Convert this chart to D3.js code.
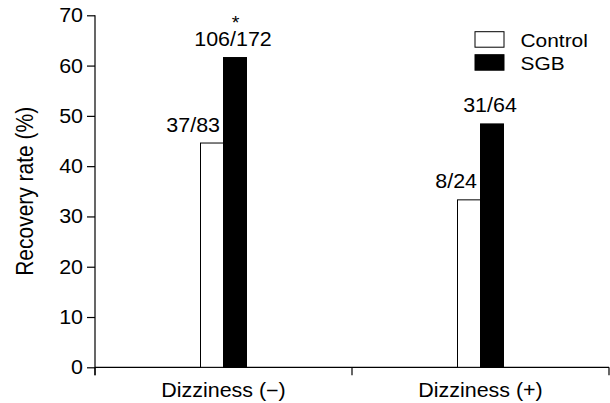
<!DOCTYPE html>
<html>
<head>
<meta charset="utf-8">
<script src="https://cdn.jsdelivr.net/npm/d3@7"></script>
<style>
  html, body { margin: 0; padding: 0; background: #fff; }
  svg { display: block; }
  text { font-family: "Liberation Sans", Arial, sans-serif; fill: #000; }
</style>
</head>
<body>
<svg id="chart" width="610" height="403"></svg>
<script>
// ---- data ----
const categories = ["Dizziness (\u2212)", "Dizziness (+)"];
const seriesNames = ["Control", "SGB"];
const controlValues = [44.6, 33.3];
const sgbValues = [61.6, 48.4];
const controlLabels = ["37/83", "8/24"];
const sgbLabels = ["106/172", "31/64"];
const sgbSignificance = ["*", ""];
const yTicks = [0, 10, 20, 30, 40, 50, 60, 70];
const yTitle = "Recovery rate (%)";

// ---- layout ----
const mLeft = 95, mRight = 609, mTop = 15.3, mBottom = 367.3;
const sx = 1.1;          // horizontal text stretch of the original
const fs = 19.5;         // main font size
const svg = d3.select("#chart");

const x = d3.scaleBand().domain(categories).range([mLeft, mRight]).padding(0);
const y = d3.scaleLinear().domain([0, 70]).range([mBottom, mTop]);
const barW = 23;
const xs = d3.scaleBand().domain(seriesNames).paddingInner(0).paddingOuter(0);

function stext(g, tx, ty, str, anchor, size) {
  return g.append("text")
    .attr("transform", `translate(${tx},${ty}) scale(${sx},1)`)
    .attr("text-anchor", anchor)
    .style("font-size", size + "px")
    .text(str);
}

// y axis
const yAxis = d3.axisLeft(y).tickValues(yTicks).tickSize(8).tickFormat("");
const gy = svg.append("g").attr("transform", `translate(${mLeft},0)`).call(yAxis);
gy.select(".domain").attr("d", `M0,${mTop}V${mBottom + 8}`);
gy.selectAll("line, path").attr("stroke", "#000").attr("stroke-width", 1.2);
yTicks.forEach(t => stext(svg, mLeft - 12, y(t) + 7, String(t), "end", fs));

// x axis
const xAxis = d3.axisBottom(x).tickSize(0).tickFormat("");
const gx = svg.append("g").attr("transform", `translate(0,${mBottom})`).call(xAxis);
gx.select(".domain").attr("d", `M${mLeft},0H${mRight}`).attr("stroke", "#000").attr("stroke-width", 1.2);
gx.selectAll(".tick").remove();
const bounds = categories.map(c => x(c)).concat([mRight]);
gx.selectAll("line.bound").data(bounds).enter().append("line")
  .attr("x1", d => d).attr("x2", d => d).attr("y1", 0).attr("y2", 8)
  .attr("stroke", "#000").attr("stroke-width", 1.2);
categories.forEach(c => stext(svg, x(c) + x.bandwidth() / 2, 397.3, c, "middle", fs));

// y title
svg.append("text")
  .attr("transform", `translate(33,${(mTop + mBottom) / 2}) scale(${sx},1) rotate(-90)`)
  .attr("text-anchor", "middle")
  .style("font-size", "21px")
  .text(yTitle);

// bars
categories.forEach((c, i) => {
  const cx = x(c) + x.bandwidth() / 2;
  xs.range([cx - barW, cx + barW]);
  const vals = [controlValues[i], sgbValues[i]];
  seriesNames.forEach((s, j) => {
    svg.append("rect")
      .attr("x", xs(s)).attr("y", y(vals[j]))
      .attr("width", xs.bandwidth()).attr("height", y(0) - y(vals[j]))
      .attr("fill", j === 0 ? "#fff" : "#000")
      .attr("stroke", "#000").attr("stroke-width", 1);
  });
  // labels
  stext(svg, xs("Control") + xs.bandwidth() - 3.5, y(controlValues[i]) - 11.5, controlLabels[i], "end", fs);
  stext(svg, xs("SGB") + xs.bandwidth() / 2 - 2, y(sgbValues[i]) - 11.5, sgbLabels[i], "middle", fs);
  if (sgbSignificance[i]) {
    stext(svg, xs("SGB") + xs.bandwidth() / 2 + 0.5, y(sgbValues[i]) - 28.5, sgbSignificance[i], "middle", 18);
  }
});

// legend
const lg = svg.append("g");
seriesNames.forEach((s, j) => {
  const yy = 31.7 + j * 23;
  lg.append("rect").attr("x", 475).attr("y", yy).attr("width", 29).attr("height", 15.5)
    .attr("fill", j === 0 ? "#fff" : "#000").attr("stroke", "#000").attr("stroke-width", 1);
  stext(lg, 520.5, yy + 15.5, s, "start", 19);
});
</script>
</body>
</html>
